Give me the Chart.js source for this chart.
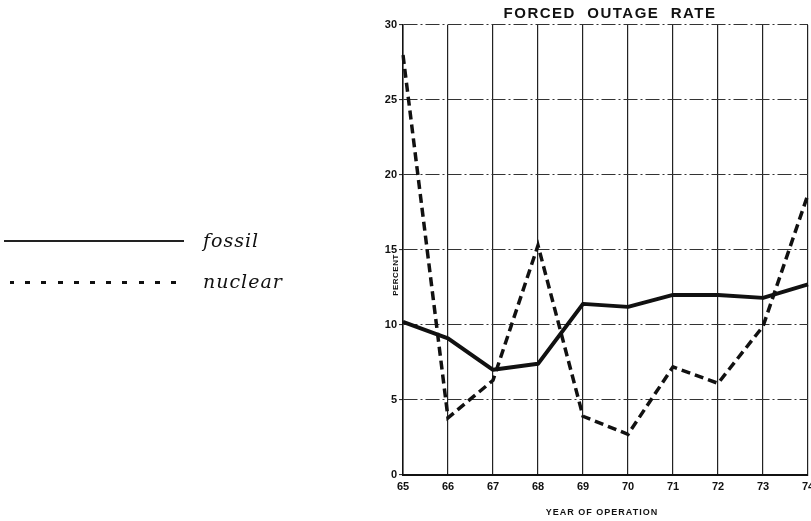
<!DOCTYPE html>
<html>
<head>
<meta charset="utf-8">
<script src="https://cdn.jsdelivr.net/npm/chart.js@4.4.1/dist/chart.umd.min.js"></script>
<style>
  html, body { margin: 0; padding: 0; background: #fff; }
  #wrap { position: relative; width: 811px; height: 521px; overflow: hidden; }
  #chart { position: absolute; left: 0; top: 0; }
  .leg { position: absolute; font-family: "DejaVu Serif", "Liberation Serif", serif; font-style: italic; font-size: 19px; color: #111; letter-spacing: 1px; }
  .leg-line { position: absolute; }
</style>
</head>
<body>
<div id="wrap">
  <canvas id="chart" width="811" height="521"></canvas>
  <div class="leg-line" style="left:4px; top:240px; width:180px; border-top:2px solid #222;"></div>
  <div class="leg" style="left:203px; top:229px;">fossil</div>
  <div class="leg-line" style="left:10px; top:281px; width:170px; border-top:3px dotted #111; border-image: repeating-linear-gradient(90deg,#111 0 5px,transparent 5px 16px) 1;"></div>
  <div class="leg" style="left:203px; top:270px;">nuclear</div>
</div>
<script>
// --- dados ---
const anos = ['65', '66', '67', '68', '69', '70', '71', '72', '73', '74'];
const fossil = [10.2, 9.1, 7.0, 7.4, 11.4, 11.2, 12.0, 12.0, 11.8, 12.7];
const nuclear = [28.0, 3.8, 6.3, 15.3, 3.9, 2.7, 7.2, 6.1, 9.9, 18.7];
const yTicks = [0, 5, 10, 15, 20, 25, 30];

const tinta = '#111';

// textos fora da área do gráfico (título e eixos)
const textosPlugin = {
    id: 'textos',
    afterDraw(chart) {
        const { ctx } = chart;
        ctx.save();
        ctx.fillStyle = tinta;
        ctx.textAlign = 'center';
        ctx.textBaseline = 'middle';

        ctx.font = 'bold 15px "Liberation Sans", Arial, sans-serif';
        ctx.letterSpacing = '1.5px';
        ctx.fillText('FORCED  OUTAGE  RATE', 610, 14);

        ctx.font = 'bold 9px "Liberation Sans", Arial, sans-serif';
        ctx.letterSpacing = '1px';
        ctx.fillText('YEAR OF OPERATION', 602, 513);

        ctx.translate(396, 275);
        ctx.rotate(-Math.PI / 2);
        ctx.font = 'bold 8px "Liberation Sans", Arial, sans-serif';
        ctx.letterSpacing = '0.5px';
        ctx.fillText('PERCENT', 0, 0);
        ctx.restore();
    }
};

new Chart(document.getElementById('chart'), {
    type: 'line',
    data: {
        labels: anos,
        datasets: [
            {
                label: 'fossil',
                data: fossil,
                borderColor: tinta,
                borderWidth: 4,
                pointRadius: 0,
                tension: 0,
                borderJoinStyle: 'round'
            },
            {
                label: 'nuclear',
                data: nuclear,
                borderColor: tinta,
                borderWidth: 3.5,
                borderDash: [9, 5],
                pointRadius: 0,
                tension: 0
            }
        ]
    },
    options: {
        responsive: false,
        animation: false,
        layout: { padding: { top: 25, right: 3, bottom: 21, left: 0 } },
        plugins: {
            legend: { display: false },
            tooltip: { enabled: false }
        },
        scales: {
            x: {
                offset: false,
                afterFit(scale) { scale.paddingRight = 0; },
                grid: { color: '#222', lineWidth: 1.2, drawTicks: false },
                border: { color: '#111', width: 2 },
                ticks: {
                    color: tinta,
                    padding: 6,
                    maxRotation: 0,
                    font: { family: '"Liberation Sans", Arial, sans-serif', size: 11, weight: 'bold' }
                }
            },
            y: {
                min: 0,
                max: 30,
                afterBuildTicks(scale) {
                    scale.ticks = yTicks.map(v => ({ value: v }));
                },
                afterFit(scale) { scale.width = 403; },
                grid: { color: '#333', lineWidth: 1.1, drawTicks: true, tickLength: 4 },
                border: { color: '#111', width: 1.5, dash: [14, 3, 2, 3] },
                ticks: {
                    color: tinta,
                    padding: 2,
                    font: { family: '"Liberation Sans", Arial, sans-serif', size: 11, weight: 'bold' }
                }
            }
        }
    },
    plugins: [textosPlugin]
});
</script>
</body>
</html>
